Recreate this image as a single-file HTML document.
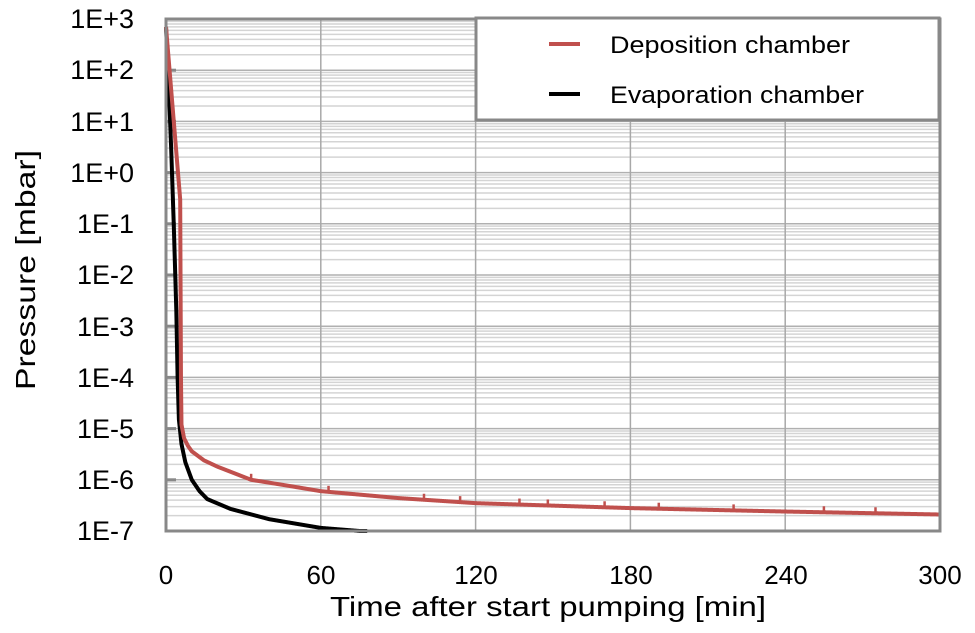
<!DOCTYPE html>
<html><head><style>
body{margin:0;background:#fff;width:975px;height:628px;overflow:hidden;font-family:"Liberation Sans",Arial,sans-serif}
svg text{font-family:"Liberation Sans",Arial,sans-serif;fill:#000}
</style></head><body>
<svg id="s" width="975" height="628" xmlns="http://www.w3.org/2000/svg">
<g id="grid"></g>
<g id="curves"></g>
<rect x="166" y="19" width="774" height="512" fill="none" stroke="#888" stroke-width="3"/>
<rect x="476" y="18" width="463" height="102" fill="#fff" stroke="#888" stroke-width="3"/>
<line x1="549" y1="44" x2="580" y2="44" stroke="#c0504d" stroke-width="4"/>
<line x1="549" y1="94" x2="580" y2="94" stroke="#000" stroke-width="4"/>
<text x="610" y="53" font-size="24" textLength="240" lengthAdjust="spacingAndGlyphs">Deposition chamber</text>
<text x="610" y="103" font-size="24" textLength="254" lengthAdjust="spacingAndGlyphs">Evaporation chamber</text>
<g font-size="27" text-anchor="end">
<text x="134" y="28">1E+3</text><text x="134" y="79">1E+2</text><text x="134" y="131">1E+1</text>
<text x="134" y="182">1E+0</text><text x="134" y="233">1E-1</text><text x="134" y="284">1E-2</text>
<text x="134" y="336">1E-3</text><text x="134" y="387">1E-4</text><text x="134" y="438">1E-5</text>
<text x="134" y="489">1E-6</text><text x="134" y="540">1E-7</text>
</g>
<g font-size="26" text-anchor="middle">
<text x="166" y="584">0</text><text x="321" y="584">60</text><text x="476" y="584">120</text>
<text x="631" y="584">180</text><text x="786" y="584">240</text><text x="940" y="584">300</text>
</g>
<text x="330" y="616" font-size="28" textLength="436" lengthAdjust="spacingAndGlyphs">Time after start pumping [min]</text>
<text transform="translate(35,390) rotate(-90)" font-size="28" textLength="240" lengthAdjust="spacingAndGlyphs">Pressure [mbar]</text>
</svg>
<script>
function X(t){return 166+t*774/300}
function Y(p){return 531-(Math.log10(p)+7)*51.2}
var g=document.getElementById('grid'),h='';
for(var d=-7;d<3;d++){for(var k=2;k<10;k++){var y=Y(k*Math.pow(10,d));h+='<line x1="166" x2="940" y1="'+y+'" y2="'+y+'" stroke="#d4d4d4" stroke-width="1.5"/>';}}
for(var d=-6;d<3;d++){var y=Y(Math.pow(10,d));h+='<line x1="166" x2="940" y1="'+y+'" y2="'+y+'" stroke="#b0b0b0" stroke-width="1.5"/><line x1="166" x2="176" y1="'+y+'" y2="'+y+'" stroke="#888" stroke-width="3"/>';}
for(var i=1;i<5;i++){var x=X(i*60);h+='<line y1="19" y2="531" x1="'+x+'" x2="'+x+'" stroke="#a8a8a8" stroke-width="1.5"/>';}
g.innerHTML=h;
function interp(pts,t){for(var i=0;i<pts.length-1;i++){if(t<=pts[i+1][0]){var a=pts[i],b=pts[i+1],f=(t-a[0])/(b[0]-a[0]);return Math.pow(10,Math.log10(a[1])+f*(Math.log10(b[1])-Math.log10(a[1])));}}return pts[pts.length-1][1];}
function path(pts,step,tmax,col){var d='';for(var t=0;t<=tmax;t+=step){var p=interp(pts,t);var y=Math.min(Y(p),531);d+=(t==0?'M':'L')+X(t).toFixed(2)+','+y.toFixed(2);}
return '<path d="'+d+'" fill="none" stroke="'+col+'" stroke-width="4" stroke-linejoin="round"/>';}
var red=[[0,700],[5.5,0.3],[5.6,0.02],[5.8,1e-4],[6,1.2e-5],[7,6.5e-6],[8.5,4.6e-6],[10,3.6e-6],[14.7,2.4e-6],[20,1.8e-6],[33,1e-6],[45,8e-7],[60,6e-7],[90,4.4e-7],[120,3.5e-7],[180,2.8e-7],[240,2.4e-7],[300,2.1e-7]];
var blk=[[0,700],[1,60],[2,3],[3,0.1],[4,2e-3],[4.5,1e-4],[5,1.5e-5],[6,5e-6],[7.5,2.2e-6],[10,1e-6],[13,6e-7],[16,4.2e-7],[25,2.7e-7],[40,1.7e-7],[60,1.15e-7],[75,1e-7],[300,1e-7]];
var c='';
c+=path(blk,0.05,78,'#000');
c+=path(red,0.05,300,'#c0504d');
[33,63,100,114,137,148,170,191,220,255,275].forEach(function(t){var p=interp(red,t);c+='<line x1="'+X(t)+'" x2="'+X(t)+'" y1="'+(Y(p)-6)+'" y2="'+Y(p)+'" stroke="#c0504d" stroke-width="2.5"/>';});
document.getElementById('curves').innerHTML=c;
</script>
</body></html>
